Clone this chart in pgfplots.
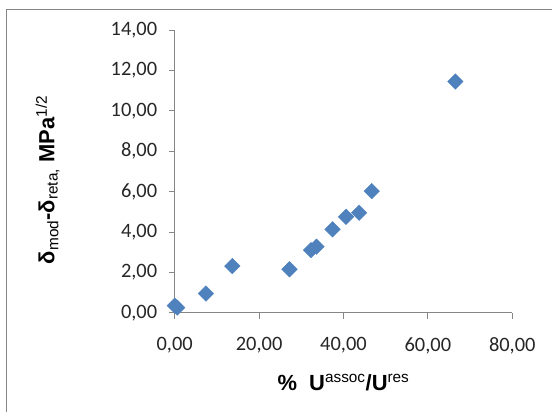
\documentclass[border=0pt]{standalone}
\usepackage{pgfplots}
\pgfplotsset{compat=1.18}
\usepackage{fontspec}
\setmainfont{Carlito}
\newfontfamily\labelfont{Liberation Sans}
\definecolor{mk}{HTML}{4F81BD}
\definecolor{ax}{HTML}{868686}
\newcommand{\sups}[1]{\textsuperscript{\mdseries #1}}
\newcommand{\subs}[1]{\textsubscript{\mdseries #1}}
\begin{document}
\begin{tikzpicture}
\path[use as bounding box] (-174.7bp,-99.3bp) rectangle ++(552bp,412bp);
\draw[ax, line width=1bp] (-167.7bp,-99.3bp) -- (-167.7bp,302.7bp) -- (377.3bp,302.7bp);
\begin{axis}[
  at={(0,0)}, anchor=south west,
  scale only axis, width=337.6bp, height=282.7bp,
  xmin=0, xmax=80, ymin=0, ymax=14,
  xtick={0,20,...,80}, ytick={0,2,...,14},
  axis lines*=left,
  axis line style={ax, line width=0.8bp, -},
  tick style={ax, line width=0.8bp},
  tick align=outside, major tick length=6bp,
  clip=false,
  /pgf/number format/assume math mode=true,
  /pgf/number format/.cd, fixed, fixed zerofill, precision=2, use comma, 1000 sep={},
  /pgfplots/.cd,
  ticklabel style={font=\fontsize{20.5}{20.5}\selectfont, text=black!85},
  yticklabel style={xshift=-8bp},
  xticklabel style={yshift=-15bp},
  xlabel={\labelfont\bfseries\fontsize{22}{22}\selectfont \%\ \ U\sups{assoc}/U\sups{res}},
  ylabel={\labelfont\bfseries\fontsize{22}{22}\selectfont δ\subs{mod}-δ\subs{reta,} MPa\sups{1/2}},
  xlabel style={at={(axis description cs:0.5,0)}, anchor=center, yshift=-70bp},
  ylabel style={at={(axis description cs:0,0.47)}, anchor=center, yshift=127bp},
]
\addplot[only marks, mark=square*, mark size=5.5bp, mark options={rotate=45, fill=mk, draw=mk}] coordinates {
(0,0.35) (0.6,0.25) (7.4,0.95) (13.65,2.31) (27.2,2.15) (32.3,3.10) (33.6,3.27)
(37.4,4.13) (40.6,4.75) (43.7,4.95) (46.7,6.02) (66.5,11.45)
};
\end{axis}
\end{tikzpicture}
\end{document}
